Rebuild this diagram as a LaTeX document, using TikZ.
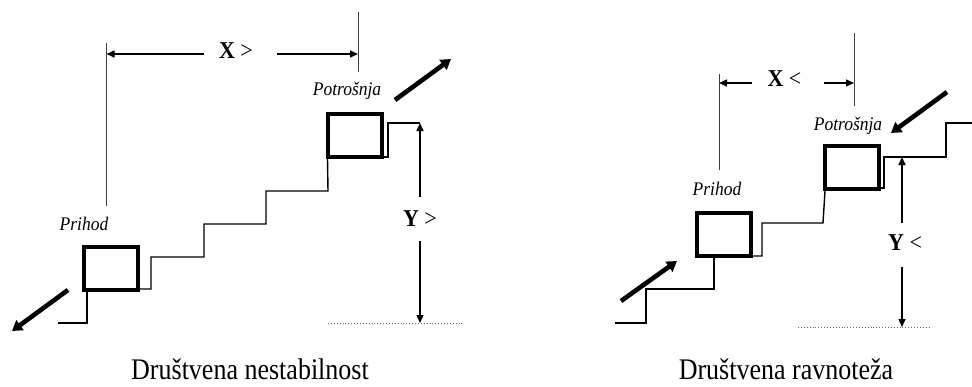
\documentclass[tikz,border=0pt]{standalone}
\usepackage{fontspec}
\setmainfont{Liberation Serif}
\usetikzlibrary{arrows.meta,calc}
\newcommand{\tallA}[1]{\scalebox{1}[1.1]{#1}}
\newcommand{\tallB}[1]{\scalebox{1}[1.15]{#1}}
\begin{document}
\begin{tikzpicture}[x=1pt,y=-1pt,
  box/.style={draw,line width=4pt,minimum width=54pt,minimum height=43pt,inner sep=0pt},
  lbl/.style={font=\fontsize{17.5}{20}\selectfont\itshape,inner sep=0pt,anchor=base},
  dimtxt/.style={font=\fontsize{22}{24}\selectfont,inner sep=0pt,anchor=base},
  caption/.style={font=\fontsize{26}{28}\selectfont,inner sep=0pt,anchor=base},
  stair/.style={line width=1.4pt},
  ext/.style={line width=0.9pt,black!75},
  dim/.style={line width=1.5pt,-{Triangle[length=8pt,width=7pt]}},
  big/.style={line width=4.6pt,-{Triangle[length=10pt,width=12pt]}},
  base/.style={line width=0.9pt,black!60,dotted}]
\useasboundingbox (0,0) rectangle (972,386);
% ---------------- left panel ----------------
\node[box] (pl) at (111,268.5) {};
\node[box] (ppl) at (354.5,135.5) {};
\node[lbl] (tpl) at (84,230.5) {\tallA{Prihod}};
\node[lbl] (tppl) at (347,95.5) {\tallA{Potrošnja}};
\coordinate (e1a) at (106.5,43);  \coordinate (e1b) at (106.5,206);
\coordinate (e2a) at (358,12);    \coordinate (e2b) at (358,72);
\draw[ext] (e1a) -- (e1b);
\draw[ext] (e2a) -- (e2b);
\node[dimtxt] (xl) at (236,58.5) {\tallA{\textbf{X} >}};
\coordinate (xl1) at (204,54); \coordinate (xl2) at (277,54);
\draw[dim] (xl1) -- (xl1 -| e1a);
\draw[dim] (xl2) -- (xl2 -| e2a);
\node[dimtxt] (yl) at (420,226.5) {\tallA{\textbf{Y} >}};
\coordinate (yl1) at (420,197); \coordinate (yl2) at (420,241);
\coordinate (ylt) at (420,123);
\coordinate (bl1) at (328,323); \coordinate (bl2) at (462,323);
\draw[base] (bl1) -- (bl2);
\draw[dim] (yl1) -- (ylt);
\draw[dim] (yl2) -- (yl2 |- bl1);
% stairs
\coordinate (sl0) at (58,323);
\draw[stair] ([xshift=5pt]pl.south west) |- (sl0);
\draw[stair] ([yshift=3pt]pl.south east) -- (151,289) |- (204,257) |- (266,224) |- (328,191) -- ([xshift=2pt]ppl.south west);
\draw[stair] ([yshift=2pt]ppl.south east) -- (388,157) |- (ylt);
% big arrows
\coordinate (al1) at (68,290); \coordinate (al2) at (12,331);
\draw[big] (al1) -- (al2);
\coordinate (al3) at (395,100); \coordinate (al4) at (451,59);
\draw[big] (al3) -- (al4);
\node[caption] (cl) at (250,379) {\tallB{Društvena nestabilnost}};
% ---------------- right panel ----------------
\node[box] (pr) at (724,234.5) {};
\node[box] (ppr) at (852,167.5) {};
\node[lbl] (tpr) at (717,195) {\tallA{Prihod}};
\node[lbl] (tppr) at (848,130) {\tallA{Potrošnja}};
\coordinate (e3a) at (719,74);  \coordinate (e3b) at (719,170);
\coordinate (e4a) at (854,33);  \coordinate (e4b) at (854,106);
\draw[ext] (e3a) -- (e3b);
\draw[ext] (e4a) -- (e4b);
\node[dimtxt] (xr) at (784.5,86.5) {\tallA{\textbf{X} <}};
\coordinate (xr1) at (752,83); \coordinate (xr2) at (824,83);
\draw[dim] (xr1) -- (xr1 -| e3a);
\draw[dim] (xr2) -- (xr2 -| e4a);
\node[dimtxt] (yr) at (905,250.5) {\tallA{\textbf{Y} <}};
\coordinate (yr1) at (902,223); \coordinate (yr2) at (902,267);
\coordinate (yrt) at (902,157);
\coordinate (br1) at (798,327); \coordinate (br2) at (929,327);
\draw[base] (br1) -- (br2);
\draw[dim] (yr1) -- (yrt);
\draw[dim] (yr2) -- (yr2 |- br1);
% stairs
\coordinate (sr0) at (615,323);
\draw[stair] ([xshift=-10pt]pr.south) |- (646,289) |- (sr0);
\draw[stair] ([yshift=2pt]pr.south east) -- (762,256) |- (823,223) -- ([xshift=2pt]ppr.south west);
\coordinate (sr9) at (972,123);
\draw[stair] ([yshift=3pt]ppr.south east) -- (884,188) |- (946,157) |- (sr9);
% big arrows
\coordinate (ar1) at (621,301); \coordinate (ar2) at (677,261);
\draw[big] (ar1) -- (ar2);
\coordinate (ar3) at (947,92); \coordinate (ar4) at (891,133);
\draw[big] (ar3) -- (ar4);
\node[caption] (cr) at (786,379) {\tallB{Društvena ravnoteža}};
\end{tikzpicture}
\end{document}
